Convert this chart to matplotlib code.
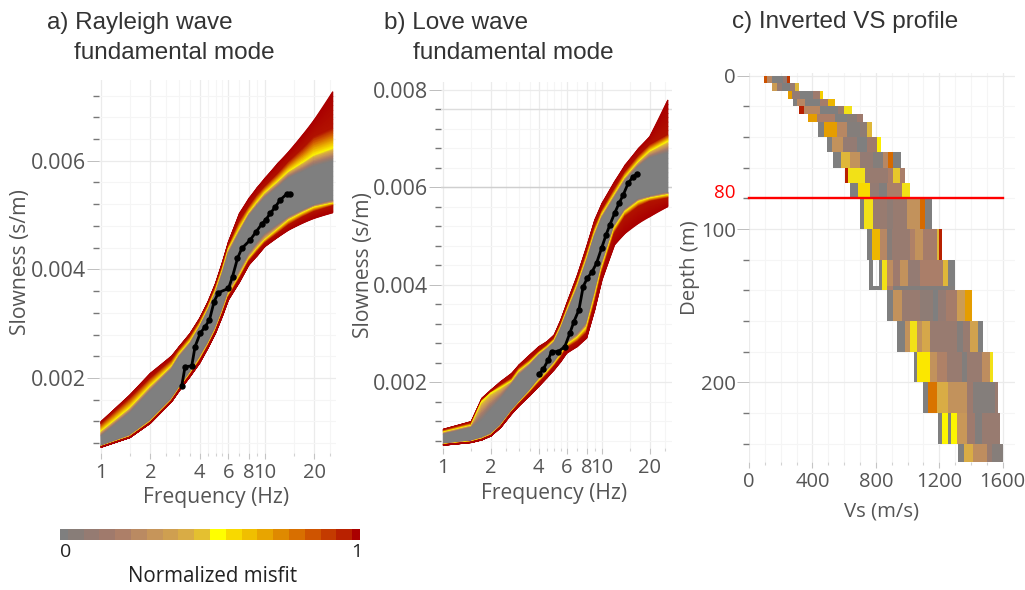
import numpy as np
import matplotlib
matplotlib.use("Agg")
import matplotlib.pyplot as plt
from matplotlib.colors import LinearSegmentedColormap
from matplotlib.transforms import Affine2D
from matplotlib.ticker import FixedLocator, FixedFormatter, NullFormatter

W, H = 1025, 590

# ---------- colour scale ----------
misfit_colors = ["#7f7f7f", "#887d78", "#957b72", "#a07a6c", "#ad7f68", "#ba8a62", "#c6955a",
                 "#cf9f50", "#d9ac45", "#e4c030", "#ffff00", "#f8d900", "#f0bf00", "#e8a500",
                 "#df8a00", "#d87000", "#cf5500", "#c43c00", "#b92200", "#aa0000"]

# ---------- dispersion envelopes (frequency in Hz, slowness in us/m) ----------
band_misfit = [1, 0.97, 0.52, 0, 0, 0.52, 0.97, 1]

ray_freq = [1, 1.5, 2, 2.7, 3, 3.5, 4, 4.5, 5, 5.5, 6, 7, 8, 9, 10, 12, 14, 17, 20, 26]
ray_outer_up = [1196, 1687, 2086, 2405, 2577, 2822, 3098, 3405, 3742, 4123, 4509, 5031, 5307, 5509, 5675, 5951, 6166, 6472, 6748, 7270]
ray_red_up = [1153, 1626, 1994, 2331, 2522, 2761, 3037, 3340, 3669, 4040, 4420, 4880, 5153, 5370, 5521, 5760, 5982, 6220, 6442, 6595]
ray_yellow_up = [1012, 1442, 1840, 2209, 2430, 2669, 2957, 3270, 3589, 3960, 4356, 4730, 5031, 5230, 5399, 5610, 5798, 5960, 6104, 6227]
ray_gray_up = [920, 1350, 1748, 2147, 2370, 2607, 2914, 3220, 3528, 3880, 4264, 4650, 4969, 5150, 5307, 5500, 5675, 5790, 5890, 5982]
ray_gray_lo = [748, 951, 1227, 1626, 1830, 2117, 2393, 2660, 2945, 3270, 3620, 3980, 4294, 4500, 4663, 4830, 4969, 5090, 5184, 5276]
ray_yellow_lo = [736, 920, 1196, 1595, 1800, 2074, 2344, 2610, 2883, 3200, 3528, 3880, 4202, 4390, 4540, 4740, 4908, 5040, 5141, 5215]
ray_red_lo = [730, 908, 1178, 1577, 1780, 2049, 2307, 2580, 2853, 3170, 3485, 3820, 4141, 4320, 4479, 4660, 4816, 4960, 5061, 5166]
ray_outer_lo = [724, 902, 1166, 1564, 1760, 2025, 2270, 2550, 2822, 3130, 3436, 3760, 4080, 4250, 4417, 4590, 4724, 4850, 4939, 5043]

love_freq = [1, 1.5, 1.75, 2, 2.3, 2.7, 3, 3.5, 4, 4.5, 5, 5.5, 6, 7, 8, 9, 10, 12, 14, 17, 20, 26]
love_outer_up = [1035, 1193, 1672, 1843, 2014, 2185, 2356, 2561, 2732, 2835, 2972, 3280, 3622, 4203, 4785, 5332, 5674, 6119, 6461, 6803, 7043, 7795]
love_red_up = [1008, 1158, 1620, 1788, 1940, 2082, 2290, 2458, 2629, 2760, 2900, 3190, 3519, 4080, 4640, 5180, 5530, 5970, 6320, 6650, 6872, 7077]
love_yellow_up = [967, 1104, 1600, 1774, 1880, 2014, 2220, 2390, 2582, 2710, 2850, 3130, 3451, 3990, 4530, 5060, 5430, 5850, 6200, 6520, 6735, 6940]
love_gray_up = [919, 1056, 1210, 1432, 1650, 1945, 2130, 2322, 2527, 2660, 2790, 3070, 3382, 3900, 4450, 4980, 5350, 5770, 6120, 6420, 6598, 6700]
love_gray_lo = [734, 803, 870, 953, 1140, 1432, 1600, 1843, 2082, 2250, 2424, 2610, 2835, 3000, 3230, 3870, 4470, 5230, 5560, 5760, 5820, 5900]
love_yellow_lo = [721, 782, 840, 919, 1100, 1398, 1570, 1808, 2034, 2210, 2376, 2560, 2766, 2920, 3130, 3760, 4370, 5170, 5503, 5708, 5777, 5845]
love_red_lo = [714, 768, 825, 905, 1085, 1384, 1550, 1774, 1979, 2150, 2322, 2500, 2698, 2830, 3010, 3620, 4250, 5058, 5400, 5606, 5708, 5777]
love_outer_lo = [707, 762, 815, 898, 1070, 1350, 1510, 1719, 1911, 2090, 2253, 2420, 2595, 2732, 2903, 3485, 4100, 4819, 5058, 5264, 5400, 5606]

# ---------- observed picks ----------
ray_pick_f = [3.11, 3.26, 3.58, 3.75, 4.03, 4.32, 4.59, 4.90, 5.21, 6.0, 6.35, 6.81, 7.24, 8.14,
              8.85, 9.59, 10.1, 10.8, 11.6, 12.4, 13.6, 14.3]
ray_pick_s = [.001853, .002209, .002221, .002577, .002822, .002945, .003067, .003405, .003571,
              .00365, .003865, .004202, .004387, .00454, .004693, .004834, .004908, .00503,
              .005153, .005276, .005387, .00539]
love_pick_f = [4.00, 4.26, 4.58, 4.81, 5.30, 5.83, 6.27, 6.65, 7.15, 7.61, 8.07, 8.67, 9.23, 9.93,
               10.6, 11.2, 12.0, 12.8, 13.6, 14.6, 15.7, 16.6]
love_pick_s = [.002164, .002267, .002458, .00263, .00263, .002732, .003006, .003245, .003485,
               .003964, .004135, .004272, .004443, .00475, .005024, .005229, .005469, .005674,
               .005845, .006085, .006222, .006276]

# ---------- Vs profile cells: (top depth, bottom depth, Vs edges, misfits) ----------
vs_layers = [
    (0, 5, [95, 116, 143, 216, 237, 258], [.85, .25, 0, .1, .9]),
    (5, 10, [143, 175, 206, 259, 290, 317], [.35, .1, 0, .12, .45]),
    (10, 15, [248, 269, 322, 406, 450, 469], [.7, .1, 0, .15, .6]),
    (15, 20, [275, 305, 353, 448, 500, 543], [1, .25, 0, .18, .65]),
    (20, 25, [317, 347, 448, 560, 600, 648], [.95, .25, 0, .12, .5]),
    (25, 30, [374, 427, 540, 616, 679, 717], [.7, .2, 0, .05, .15, 1]),
    (30, 40, [437, 473, 553, 620, 700, 745, 774], [1, .7, .25, .03, .08, .45]),
    (40, 50, [494, 521, 595, 680, 742, 805, 833], [1, .3, .1, 0, .15, .55, 1]),
    (50, 60, [532, 578, 640, 700, 780, 847, 879, 910, 957], [1, .45, .3, .1, .03, .25, .8, 1]),
    (60, 70, [606, 627, 700, 732, 879, 910, 953, 984], [.95, .5, .5, .12, .2, .48, .2, 1]),
    (70, 80, [637, 690, 763, 820, 868, 963, 1016], [1, .58, .1, .02, .2, .5]),
    (80, 100, [700, 725, 780, 868, 910, 995, 1079, 1110, 1152],
     [1, .5, .12, .08, .12, .3, .8, 1]),
    (100, 120, [742, 774, 826, 868, 905, 1016, 1050, 1100, 1184, 1200, 1215],
     [1, .65, .25, .05, .12, .22, .3, .18, .45, .95]),
    (120, 137, [757, 784, 820, 837, 873, 910, 950, 1000, 1079, 1226, 1257, 1299],
     [1, np.nan, 1, .5, .28, .15, .3, .1, .2, .45, 1]),
    (137, 140, [757, 837, 873, 910, 1299], [1, .5, .2, .02]),
    (140, 160, [873, 910, 963, 1080, 1163, 1194, 1240, 1310, 1362, 1404],
     [1, .3, .12, .08, 0, .1, .18, .35, .7]),
    (160, 180, [936, 984, 1016, 1058, 1090, 1142, 1310, 1352, 1394, 1447, 1478],
     [1, .3, .5, .3, .4, .12, .03, .12, .38, 1]),
    (180, 200, [1041, 1062, 1142, 1184, 1247, 1342, 1373, 1468, 1520, 1537],
     [1, .56, .3, .22, .12, .02, .12, .28, .5]),
    (200, 220, [1100, 1131, 1184, 1257, 1373, 1415, 1552, 1573], [1, .78, .42, .3, .14, .03, .12]),
    (220, 240, [1194, 1220, 1253, 1272, 1314, 1373, 1426, 1468, 1583], [1, .54, 1, .54, .33, .15, .02, .12]),
    (240, 252, [1320, 1356, 1415, 1499, 1531, 1600], [1, .42, .28, .12, .04]),
]
depth_line = 79.5

# ---------- ticks and labels ----------
freq_major = [1, 2, 4, 6, 8, 10, 20]
freq_minor = [1.5, 2.5, 3, 3.5, 4.5, 5, 5.5, 7, 9, 15, 25]
slow_major_a = [.002, .004, .006]
slow_major_b = [.002, .004, .006, .008]
slow_minor_a = [.0008, .0012, .0016, .0024, .0028, .0032, .0036, .0044, .0048, .0052, .0056, .0064, .0068, .0072]
slow_minor_b = slow_minor_a + [.0076]
depth_major = [0, 100, 200]
depth_minor = [20, 40, 60, 80, 120, 140, 160, 180, 220, 240]
vs_major = [0, 400, 800, 1200, 1600]
vs_minor = [100, 200, 300, 500, 600, 700, 900, 1000, 1100, 1300, 1400, 1500]

SANS = "Open Sans"
TXT = "#555555"
plt.rcParams["font.family"] = [SANS, "DejaVu Sans"]

cmap = LinearSegmentedColormap.from_list("misfit", misfit_colors, N=512)
fig = plt.figure(figsize=(W / 100, H / 100), dpi=100, facecolor="white")
px = Affine2D().scale(1 / W, -1 / H).translate(0, 1) + fig.transFigure


def axes_px(left, top, right, bottom):
    return fig.add_axes([left / W, 1 - bottom / H, (right - left) / W, (bottom - top) / H])


def style(ax, ymaj, ymin_, xmaj, xmin_, xlab, ylab, xl_pos, yl_pos, ysize, lsize):
    for s in ax.spines.values():
        s.set_visible(False)
    ax.set_axisbelow(True)
    ax.yaxis.set_major_locator(FixedLocator(ymaj))
    ax.yaxis.set_minor_locator(FixedLocator(ymin_))
    ax.xaxis.set_major_locator(FixedLocator(xmaj))
    ax.xaxis.set_minor_locator(FixedLocator(xmin_))
    ax.xaxis.set_minor_formatter(NullFormatter())
    ax.yaxis.set_minor_formatter(NullFormatter())
    ax.grid(True, which="major", color="#ebebeb", lw=0.9)
    ax.grid(True, which="minor", color="#f5f5f5", lw=0.8)
    ax.tick_params(axis="y", which="major", length=8.5, width=0.7, color="#bdbdbd", pad=1,
                   labelsize=ysize, labelcolor=TXT)
    ax.tick_params(axis="y", which="minor", length=4.5, width=1.0, color="#777777")
    ax.tick_params(axis="x", which="major", length=4, width=0.8, color="#c4c4c4", pad=3,
                   labelsize=14.5, labelcolor=TXT)
    ax.tick_params(axis="x", which="minor", length=2.5, width=0.8, color="#d2d2d2")
    ax.set_xlabel(xlab, fontsize=lsize, color=TXT, va="center")
    ax.set_ylabel(ylab, fontsize=lsize, color=TXT, va="center", ha="center")
    ax.xaxis.set_label_coords(*xl_pos, transform=px)
    ax.yaxis.set_label_coords(*yl_pos, transform=px)


def dispersion(ax, f, rows, pf, ps):
    # the read boundaries stay fixed; colour steps follow the colour scale between them
    rows = np.array(rows, float) * 1e-6
    levels = np.array(band_misfit, float)
    S_rows, C_rows = [rows[0]], [levels[0]]
    for i in range(len(rows) - 1):
        for t in np.linspace(0, 1, 9)[1:]:
            S_rows.append(rows[i] * (1 - t) + rows[i + 1] * t)
            C_rows.append(levels[i] * (1 - t) + levels[i + 1] * t)
    S = np.array(S_rows)
    C = np.tile(np.array(C_rows)[:, None], (1, len(f)))
    F = np.tile(np.array(f, float), (S.shape[0], 1))
    ax.pcolormesh(F, S, C, shading="gouraud", cmap=cmap, vmin=0, vmax=1, zorder=2)
    ax.plot(pf, ps, color="black", lw=2, marker="o", ms=3.6, zorder=3)
    ax.set_xscale("log")


# panel a
ax_a = axes_px(99, 80, 336, 453)
dispersion(ax_a, ray_freq, [ray_outer_up, ray_red_up, ray_yellow_up, ray_gray_up,
                            ray_gray_lo, ray_yellow_lo, ray_red_lo, ray_outer_lo], ray_pick_f, ray_pick_s)
ax_a.set_xlim(0.972, 27.2)
ax_a.set_ylim(.000619, .007486)
style(ax_a, slow_major_a, slow_minor_a, freq_major, freq_minor, "Frequency (Hz)", "Slowness (s/m)",
      (216, 497), (21, 262), 15.5, 15.2)
ax_a.xaxis.set_major_formatter(FixedFormatter([str(v) for v in freq_major]))
ax_a.yaxis.set_major_formatter(FixedFormatter(["0.002", "0.004", "0.006"]))

# panel b
ax_b = axes_px(441, 82, 672, 448)
dispersion(ax_b, love_freq, [love_outer_up, love_red_up, love_yellow_up, love_gray_up,
                             love_gray_lo, love_yellow_lo, love_red_lo, love_outer_lo], love_pick_f, love_pick_s)
ax_b.set_xlim(0.967, 27.6)
ax_b.set_ylim(.00065, .008164)
style(ax_b, slow_major_b, slow_minor_b, freq_major, freq_minor, "Frequency (Hz)", "Slowness (s/m)",
      (554, 494), (364, 265), 15.5, 15.2)
ax_b.xaxis.set_major_formatter(FixedFormatter([str(v) for v in freq_major]))
ax_b.yaxis.set_major_formatter(FixedFormatter(["0.002", "0.004", "0.006", "0.008"]))
ax_b.axhline(.006, color="#cfcfcf", lw=1.0, zorder=1)
ax_b.axhline(.0076, color="#dddddd", lw=1.0, zorder=1)

# panel c
ax_c = axes_px(749, 73, 1015, 462)
for top, bot, edges, vals in vs_layers:
    edges = np.array(edges, float)
    for left, right, m in zip(edges[:-1], edges[1:], vals):
        if np.isnan(m):
            continue
        ax_c.barh((top + bot) / 2, right - left, left=left, height=bot - top,
                  color=cmap(m), linewidth=0, zorder=2)
ax_c.set_xlim(0, 1678)
ax_c.set_ylim(252, -1.8)
style(ax_c, depth_major, depth_minor, vs_major, vs_minor, "Vs (m/s)", "Depth (m)",
      (881, 512), (690, 268), 14.7, 14.7)
ax_c.xaxis.set_major_formatter(FixedFormatter([str(v) for v in vs_major]))
ax_c.yaxis.set_major_formatter(FixedFormatter([str(v) for v in depth_major]))
ax_c.plot([0, 1600], [depth_line, depth_line], color="#ff0000", lw=1.7, zorder=4, clip_on=False)
fig.text(725, 193, "80", transform=px, color="#ff0000", fontsize=13.5, ha="center", va="center")

# colour bar
ax_bar = axes_px(60, 529, 360, 540)
cells = np.arange(len(misfit_colors)) / (len(misfit_colors) - 1)
cell_edges = np.concatenate([[0], (cells[:-1] + cells[1:]) / 2, [1]])
ax_bar.pcolormesh(cell_edges, [0, 1], cells[None, :], cmap=cmap, vmin=0, vmax=1)
ax_bar.set_xlim(0, 1)
ax_bar.axis("off")
fig.text(66, 552, "0", transform=px, fontsize=14, color="#222222", ha="center", va="center")
fig.text(357, 552, "1", transform=px, fontsize=14, color="#222222", ha="center", va="center")
fig.text(213, 577, "Normalized misfit", transform=px, fontsize=14.8, color="#222222", ha="center", va="center")

# titles
title_kw = dict(transform=px, family="Liberation Sans", fontsize=17.5, color="#333333", ha="left", va="center")
fig.text(47, 23, "a) Rayleigh wave", **title_kw)
fig.text(74, 53, "fundamental mode", **title_kw)
fig.text(384, 23, "b) Love wave", **title_kw)
fig.text(413, 53, "fundamental mode", **title_kw)
fig.text(732, 22, "c) Inverted VS profile", **title_kw)

fig.savefig("out.png", dpi=100, facecolor="white")
